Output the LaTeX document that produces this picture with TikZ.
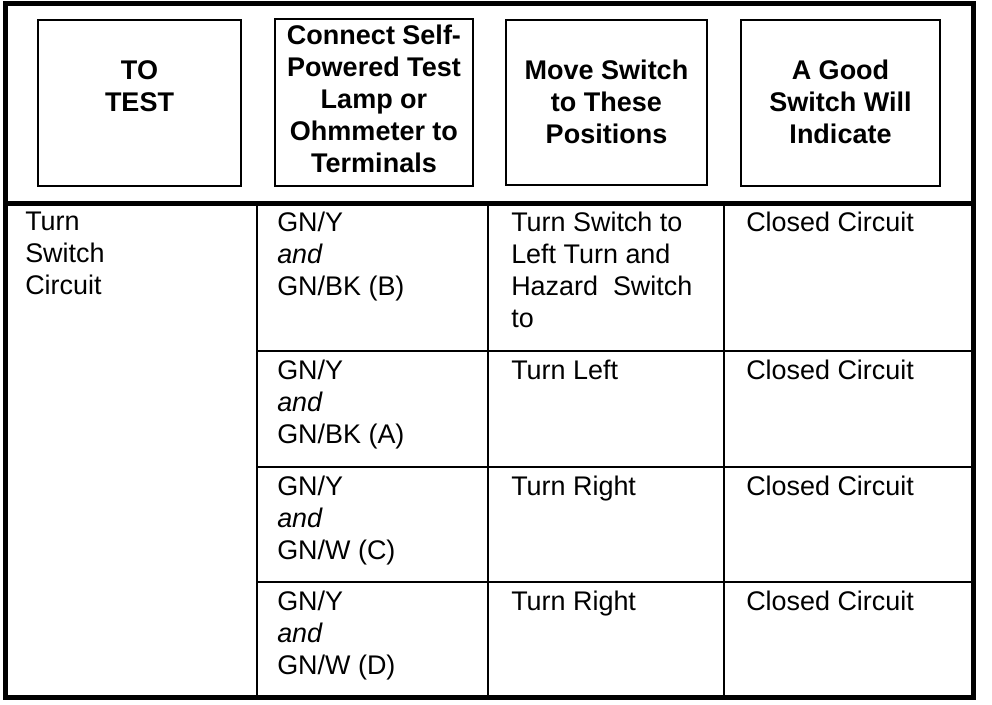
\documentclass[tikz,border=0pt]{standalone}
\usepackage{fontspec}
\setmainfont{Liberation Sans}
\usepackage{tikz}

\begin{document}
\begin{tikzpicture}[x=0.75pt,y=0.75pt,yscale=-1,xscale=1,
  frame/.style={line width=3.75pt},
  hbox/.style={line width=1.3pt},
  htext/.style={inner sep=0.75pt,align=center,font=\fontsize{20.25}{24}\selectfont\bfseries},
  cell/.style={anchor=north west,inner sep=0pt,align=left,font=\fontsize{20.2}{24}\selectfont},
  colline/.style={line width=1.1pt},
  rowline/.style={line width=1.5pt}]
\useasboundingbox (0,0) rectangle (992,704);

%Shape: Rectangle (outer frame)
\draw [frame] (5,3) rectangle (973,697);
%Straight Lines (header rule)
\draw [frame] (5,203) -- (973,203);

%Shape: Rectangle (header boxes)
\draw [hbox] (38,20) rectangle (241,186);
\draw [hbox] (275,19) rectangle (473,186);
\draw [hbox] (506,20) rectangle (707,185);
\draw [hbox] (741,20) rectangle (940,186);

%Straight Lines (columns)
\foreach \cx in {257,488,724}
  \draw [colline] (\cx,203) -- (\cx,697);
%Straight Lines (rows)
\foreach \ry in {351,467,582}
  \draw [rowline] (257,\ry) -- (973,\ry);

% Text Node
\node [htext] (hdtest) at (139.5,86.5) {TO\\TEST};
% Text Node
\node [htext] (hdconn) at (374,99) {Connect Self-\\Powered Test\\Lamp or\\Ohmmeter to\\Terminals};
% Text Node
\node [htext] (hdmove) at (606.5,101.5) {Move Switch\\to These\\Positions};
% Text Node
\node [htext] (hdgood) at (840.5,102) {A Good\\Switch Will\\Indicate};

% Text Node
\node [cell] (circ) at (25,212) {Turn\\Switch\\Circuit};

% Text Node
\node [cell] (termb) at (277,212) {GN/Y\\\textit{and}\\GN/BK (B)};
\node [cell] (posb) at (511,212) {Turn Switch to\\Left Turn and\\Hazard\ \ Switch\\to};
\node [cell] (indb) at (746,212) {Closed Circuit};

% Text Node
\node [cell] (terma) at (277,360) {GN/Y\\\textit{and}\\GN/BK (A)};
\node [cell] (posa) at (511,360) {Turn Left};
\node [cell] (inda) at (746,360) {Closed Circuit};

% Text Node
\node [cell] (termc) at (277,476) {GN/Y\\\textit{and}\\GN/W (C)};
\node [cell] (posc) at (511,476) {Turn Right};
\node [cell] (indc) at (746,476) {Closed Circuit};

% Text Node
\node [cell] (termd) at (277,591) {GN/Y\\\textit{and}\\GN/W (D)};
\node [cell] (posd) at (511,591) {Turn Right};
\node [cell] (indd) at (746,591) {Closed Circuit};

\end{tikzpicture}
\end{document}
